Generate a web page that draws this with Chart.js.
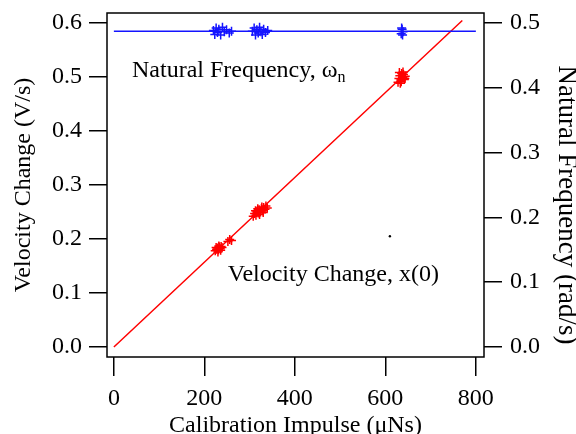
<!DOCTYPE html>
<html>
<head>
<meta charset="utf-8">
<script src="https://cdn.jsdelivr.net/npm/chart.js@4.4.0/dist/chart.umd.min.js"></script>
<style>
  html, body { margin: 0; padding: 0; background: #fff; }
</style>
</head>
<body>
<canvas id="chart_calib" width="576" height="434"></canvas>
<script>
// velocity change measurements (left axis, V/s)
var velImpulse = [224, 227, 229, 231, 233, 235, 237, 239, 226, 232, 236, 230,
                  252, 256, 260,
                  308, 311, 314, 316, 319, 321, 324, 326, 329, 331, 334, 336, 339, 313, 322, 330, 318, 327,
                  628, 630, 632, 634, 636, 638, 640, 642, 644, 631, 635, 639, 643, 633, 641];
var velChange = [0.178, 0.181, 0.183, 0.180, 0.185, 0.182, 0.186, 0.184, 0.184, 0.187, 0.179, 0.176,
                 0.195, 0.199, 0.197,
                 0.242, 0.247, 0.244, 0.251, 0.248, 0.254, 0.250, 0.256, 0.252, 0.258, 0.255, 0.261, 0.257, 0.252, 0.245, 0.249, 0.256, 0.259,
                 0.490, 0.497, 0.502, 0.494, 0.506, 0.499, 0.504, 0.495, 0.501, 0.508, 0.491, 0.509, 0.497, 0.488, 0.500];

// linear fit through the velocity data
var fitImpulse = [0, 770];
var fitChange = [0, 0.604];

// natural frequency measurements (right axis, rad/s)
var natImpulse = [220, 223, 226, 229, 232, 236, 240, 244, 249, 255, 260,
                  306, 310, 313, 316, 319, 322, 325, 328, 331, 335, 340,
                  635, 637, 639, 636, 638];
var natFreq = [0.488, 0.482, 0.492, 0.485, 0.490, 0.481, 0.493, 0.486, 0.489, 0.484, 0.487,
               0.487, 0.492, 0.481, 0.489, 0.484, 0.493, 0.486, 0.482, 0.490, 0.485, 0.488,
               0.483, 0.490, 0.486, 0.492, 0.481];

// mean natural frequency
var natMeanImpulse = [0, 800];
var natMeanFreq = [0.487, 0.487];

// stray point
var strayImpulse = [610];
var strayValue = [0.205];

var xTicks = [0, 200, 400, 600, 800];
var leftTicks = [0, 0.1, 0.2, 0.3, 0.4, 0.5, 0.6];
var rightTicks = [0, 0.1, 0.2, 0.3, 0.4, 0.5];

function toPoints(xs, ys) {
    return xs.map(function (x, i) { return {x: x, y: ys[i]}; });
}

var serif = '"Liberation Serif", "Times New Roman", serif';
var tickFont = {family: serif, size: 24};
var titleFont = {family: serif, size: 24};

function fixTicks(values) {
    return function (scale) {
        scale.ticks = values.map(function (v) { return {value: v}; });
    };
}

// keep the plot box where it is, labels may hang over the edges
function fixSize(prop, size) {
    return function (s) {
        s[prop] = size;
        s.paddingTop = 0; s.paddingBottom = 0;
        s.paddingLeft = 0; s.paddingRight = 0;
    };
}

// frame round the plot, right axis title and the two text labels
var framePlugin = {
    id: 'frame',
    afterDraw: function (chart) {
        var ctx = chart.ctx;
        var a = chart.chartArea;
        ctx.save();
        ctx.strokeStyle = '#000';
        ctx.lineWidth = 1.5;
        ctx.strokeRect(a.left, a.top, a.right - a.left, a.bottom - a.top);

        ctx.fillStyle = '#000';
        ctx.textBaseline = 'alphabetic';
        ctx.textAlign = 'left';
        ctx.font = '24px ' + serif;
        var s = 'Natural Frequency, \u03c9';
        ctx.fillText(s, 132, 77);
        var w = ctx.measureText(s).width;
        ctx.font = '16px ' + serif;
        ctx.fillText('n', 132 + w, 82);

        ctx.font = '24px ' + serif;
        ctx.textAlign = 'right';
        ctx.fillText('Velocity Change, x(0)', 439, 281);

        ctx.translate(566, 205);
        ctx.rotate(Math.PI / 2);
        ctx.textAlign = 'center';
        ctx.textBaseline = 'middle';
        ctx.font = '27px ' + serif;
        ctx.fillText('Natural Frequency (rad/s)', 0, 0);
        ctx.restore();
    }
};

var ctx = document.getElementById('chart_calib').getContext('2d');
var chart = new Chart(ctx, {
    type: 'scatter',
    data: {
        datasets: [
            {label: 'Natural Frequency mean', data: toPoints(natMeanImpulse, natMeanFreq), yAxisID: 'y2',
             showLine: true, borderColor: 'rgb(20, 20, 255)', borderWidth: 1.5, pointRadius: 0},
            {label: 'Natural Frequency', data: toPoints(natImpulse, natFreq), yAxisID: 'y2',
             pointStyle: 'cross', pointRadius: 4.5, borderColor: 'rgb(20, 20, 255)', borderWidth: 1.5},
            {label: 'Fit', data: toPoints(fitImpulse, fitChange), yAxisID: 'y',
             showLine: true, borderColor: 'rgb(255, 0, 0)', borderWidth: 1.5, pointRadius: 0},
            {label: 'Velocity Change', data: toPoints(velImpulse, velChange), yAxisID: 'y',
             pointStyle: 'cross', pointRadius: 4.5, borderColor: 'rgb(255, 0, 0)', borderWidth: 1.5},
            {label: 'stray', data: toPoints(strayImpulse, strayValue), yAxisID: 'y',
             pointRadius: 1.2, backgroundColor: '#000', borderColor: '#000', borderWidth: 0}
        ]
    },
    options: {
        responsive: false,
        animation: false,
        layout: {padding: {top: 13, left: 0, right: 0, bottom: 0}},
        plugins: {legend: {display: false}, tooltip: {enabled: false}},
        scales: {
            x: {
                type: 'linear', position: 'bottom', min: -15.2, max: 818,
                afterBuildTicks: fixTicks(xTicks),
                afterFit: fixSize('height', 77),
                border: {display: false},
                grid: {drawOnChartArea: false, drawTicks: true, tickLength: 19, color: '#000', lineWidth: 1.5},
                ticks: {color: '#000', font: tickFont, padding: 8, maxRotation: 0},
                title: {display: true, text: 'Calibration Impulse (\u03bcNs)', color: '#000', font: titleFont,
                        padding: {top: 0, bottom: -6}}
            },
            y: {
                type: 'linear', position: 'left', min: -0.0185, max: 0.618,
                afterBuildTicks: fixTicks(leftTicks),
                afterFit: fixSize('width', 107),
                border: {display: false},
                grid: {drawOnChartArea: false, drawTicks: true, tickLength: 18, color: '#000', lineWidth: 1.5},
                ticks: {color: '#000', font: tickFont, padding: 7,
                        callback: function (v) { return v.toFixed(1); }},
                title: {display: true, text: 'Velocity Change (V/s)', color: '#000', font: titleFont,
                        padding: {top: 9, bottom: 0}}
            },
            y2: {
                type: 'linear', position: 'right', min: -0.0154, max: 0.515,
                afterBuildTicks: fixTicks(rightTicks),
                afterFit: fixSize('width', 92),
                border: {display: false},
                grid: {drawOnChartArea: false, drawTicks: true, tickLength: 18, color: '#000', lineWidth: 1.5},
                ticks: {color: '#000', font: tickFont, padding: 8,
                        callback: function (v) { return v.toFixed(1); }},
                title: {display: false}
            }
        }
    },
    plugins: [framePlugin]
});
</script>
</body>
</html>
